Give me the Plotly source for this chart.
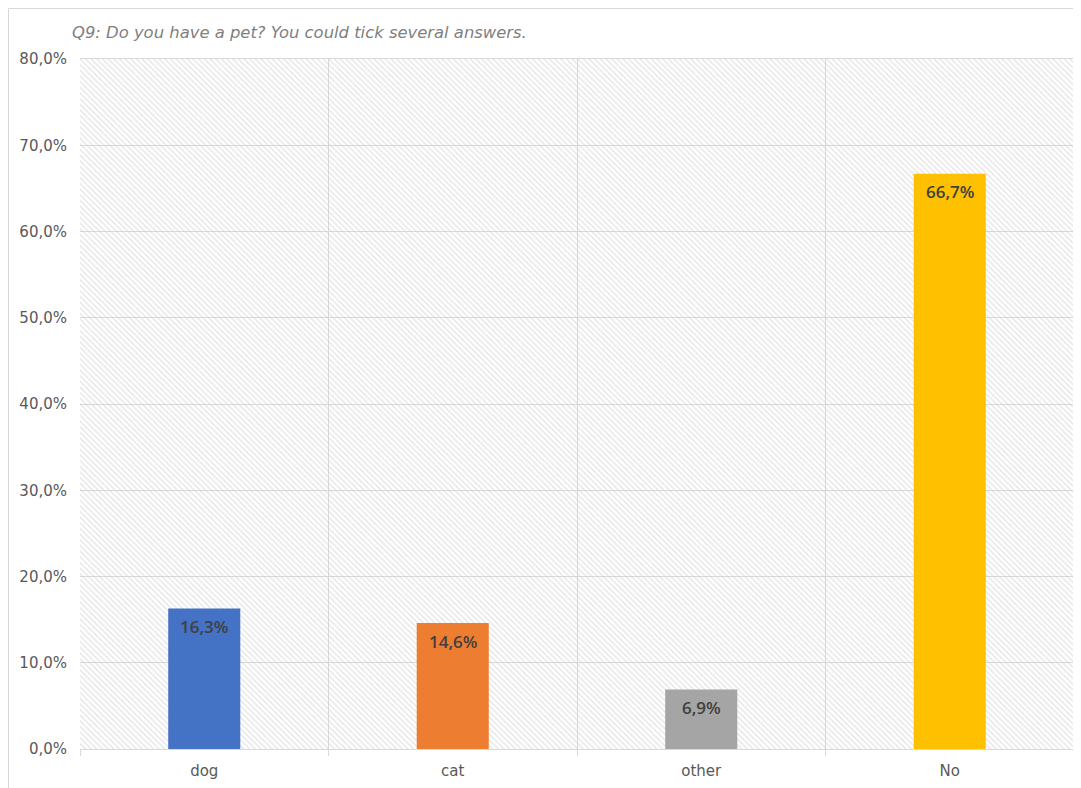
import plotly.graph_objects as go

categories = ["dog", "cat", "other", "No"]
values = [0.163, 0.146, 0.069, 0.667]
bar_colors = ["#4472C4", "#ED7D31", "#A5A5A5", "#FFC000"]
y_max = 0.8
y_ticks = [0.0, 0.1, 0.2, 0.3, 0.4, 0.5, 0.6, 0.7, 0.8]
title_text = "Q9: Do you have a pet? You could tick several answers."

font_family = "DejaVu Sans, Liberation Sans, Arial, sans-serif"
label_family = "Open Sans, DejaVu Sans, sans-serif"

W, H = 1073, 780
ML, MR, MT, MB = 72, 7, 51, 39
PW, PH = W - ML - MR, H - MT - MB

fig = go.Figure()

# hatched plot-area background (transparent gaps so gridlines show through)
fig.add_trace(go.Bar(
    x=categories,
    y=[y_max] * len(categories),
    width=1.0,
    marker=dict(
        color="rgba(0,0,0,0)",
        line=dict(width=0),
        pattern=dict(shape="\\", fgcolor="#cccccc", bgcolor="rgba(0,0,0,0)",
                     size=4, solidity=0.35),
    ),
    hoverinfo="skip",
    showlegend=False,
))

fig.add_trace(go.Bar(
    x=categories,
    y=values,
    width=0.29,
    marker=dict(color=bar_colors, line=dict(width=0)),
    showlegend=False,
))

labels = [f"{v*100:.1f}%".replace(".", ",") for v in values]
for cat, v, lab in zip(categories, values, labels):
    fig.add_annotation(
        x=cat, y=v, xref="x", yref="y",
        text=lab, showarrow=False,
        yanchor="middle", yshift=-18,
        font=dict(family=label_family, size=17, color="#404040", weight=600),
    )

fig.update_layout(
    width=W,
    height=H,
    autosize=False,
    barmode="overlay",
    separators=",.",
    paper_bgcolor="white",
    plot_bgcolor="white",
    margin=dict(l=ML, r=MR, t=MT, b=MB),
    font=dict(family=font_family, size=15, color="#595959"),
    title=dict(
        text=title_text,
        x=64 / W,
        xanchor="left",
        y=1 - 24 / H,
        yanchor="middle",
        font=dict(family=font_family, size=16.4, color="#7f7f7f", style="italic"),
    ),
    xaxis=dict(
        type="category",
        tickson="boundaries",
        showgrid=True,
        gridcolor="#d9d9d9",
        gridwidth=1,
        ticks="outside",
        ticklen=6,
        tickcolor="#d9d9d9",
        showline=True,
        linecolor="#d9d9d9",
        linewidth=1,
        mirror=True,
        ticklabelstandoff=8,
        tickfont=dict(size=15, color="#595959"),
        range=[-0.5, 3.5],
    ),
    yaxis=dict(
        range=[0, y_max],
        tickvals=y_ticks,
        tickformat=".1%",
        showgrid=True,
        gridcolor="#d9d9d9",
        gridwidth=1,
        zeroline=False,
        showline=False,
        ticks="",
        ticklabelstandoff=12,
        tickfont=dict(size=15, color="#595959"),
    ),
    shapes=[dict(
        type="rect", xref="paper", yref="paper",
        x0=(0.5 - ML) / PW, x1=(W - 3.5 - ML) / PW,
        y0=-(MB + 20) / PH, y1=(PH + MT - 0.5) / PH,
        line=dict(color="#d9d9d9", width=1),
        fillcolor="rgba(0,0,0,0)",
        layer="above",
    )],
)

fig.write_html("out.html")
